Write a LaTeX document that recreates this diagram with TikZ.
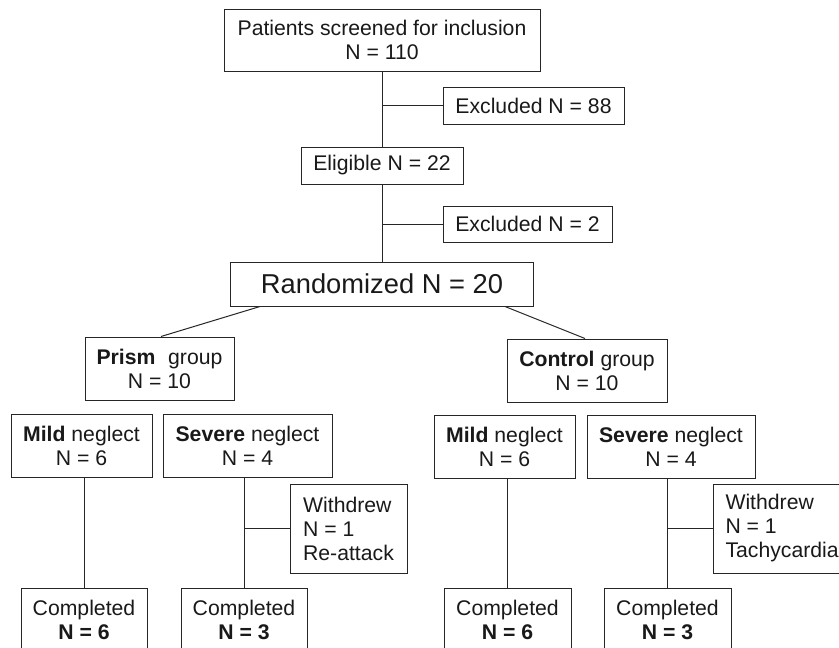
\documentclass[tikz,border=0pt]{standalone}
\usepackage{fontspec}
\setmainfont{Liberation Sans}
\newcommand\mainsz{\fontsize{21.2}{24}\selectfont}
\newcommand\bigsz{\fontsize{27.3}{30}\selectfont}
\begin{document}
\begin{tikzpicture}[x=1pt,y=-1pt,
  box/.style={draw=black!85, line width=1pt, inner sep=0pt, align=center, font=\mainsz, text=black!90},
  conn/.style={draw=black!85, line width=1pt}]
\useasboundingbox (0,0) rectangle (839,648);
\clip (0,0) rectangle (839,648);
\fill[white] (0,0) rectangle (839,648);
% top chain
\node[box, minimum width=316pt, minimum height=62pt] (scr) at (382,40) {Patients screened for inclusion\\N = 110};
\node[box, minimum width=181pt, minimum height=37pt] (ex1) at (533.5,105.5) {Excluded N = 88};
\node[box, minimum width=162pt, minimum height=37pt] (elig) at (382,165.5) {Eligible N = 22};
\node[box, minimum width=169pt, minimum height=36pt] (ex2) at (527.5,224) {Excluded N = 2};
\node[box, minimum width=303pt, minimum height=44pt, font=\bigsz] (rand) at (382,284) {Randomized N = 20};
% groups
\node[box, minimum width=149pt, minimum height=63pt] (prism) at (159.5,368.5) {\textbf{Prism}\hspace{0.6em}group\\N = 10};
\node[box, minimum width=160pt, minimum height=63pt] (ctrl) at (587,370.5) {\textbf{Control} group\\N = 10};
% subgroups
\node[box, minimum width=141pt, minimum height=63pt] (mildL) at (81.5,445.5) {\textbf{Mild} neglect\\N = 6};
\node[box, minimum width=169pt, minimum height=63pt] (sevL) at (247.5,445.5) {\textbf{Severe} neglect\\N = 4};
\node[box, minimum width=141pt, minimum height=63pt] (mildR) at (504.5,446.5) {\textbf{Mild} neglect\\N = 6};
\node[box, minimum width=168pt, minimum height=63pt] (sevR) at (671,446.5) {\textbf{Severe} neglect\\N = 4};
% withdrew
\node[box, align=left, minimum width=117pt, minimum height=89pt] (wdL) at (348.5,528.5) {Withdrew\\N = 1\\Re-attack};
\node[box, align=left, anchor=west, inner xsep=12pt, minimum height=89pt] (wdR) at (713,528.5) {Withdrew\\N = 1\\Tachycardia};
% completed
\node[box, minimum width=126pt, minimum height=64pt] (cL1) at (84,620) {Completed\\\textbf{N = 6}};
\node[box, minimum width=126pt, minimum height=64pt] (cL2) at (244,620) {Completed\\\textbf{N = 3}};
\node[box, minimum width=127pt, minimum height=64pt] (cR1) at (507.5,620) {Completed\\\textbf{N = 6}};
\node[box, minimum width=127pt, minimum height=64pt] (cR2) at (667.5,620) {Completed\\\textbf{N = 3}};
% connectors
\draw[conn] (scr.south) -- (elig.north);
\draw[conn] (ex1.west) -- (ex1.west -| scr.south);
\draw[conn] (elig.south) -- (rand.north);
\draw[conn] (ex2.west) -- (ex2.west -| elig.south);
\draw[conn] ([xshift=30pt]rand.south west) -- ([xshift=1.5pt]prism.north);
\draw[conn] ([xshift=-29pt]rand.south east) -- ([xshift=-2pt]ctrl.north);
\draw[conn] (cL1.north |- mildL.south) -- (cL1.north);
\draw[conn] (cL2.north |- sevL.south) -- (cL2.north);
\draw[conn] (cR1.north |- mildR.south) -- (cR1.north);
\draw[conn] (cR2.north |- sevR.south) -- (cR2.north);
\draw[conn] (wdL.west) -- (wdL.west -| cL2.north);
\draw[conn] (wdR.west) -- (wdR.west -| cR2.north);
\end{tikzpicture}
\end{document}
